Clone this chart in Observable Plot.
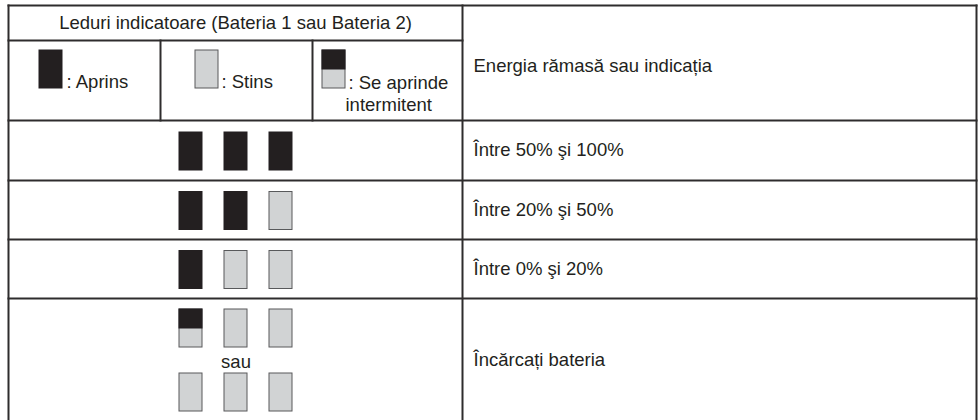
<!DOCTYPE html>
<html>
<head>
<meta charset="utf-8">
<script src="https://cdn.jsdelivr.net/npm/d3@7"></script>
<script src="https://cdn.jsdelivr.net/npm/@observablehq/plot@0.6"></script>
<style>
  html, body { margin: 0; padding: 0; background: #fff; }
  #chart { width: 980px; height: 420px; overflow: hidden; }
</style>
</head>
<body>
<div id="chart"></div>
<script>
// ---------- data ----------
const headerTitle = "Leduri indicatoare (Bateria 1 sau Bateria 2)";
const legendStates = ["on", "off", "blink"];
const legendLabels = [[": Aprins"], [": Stins"], [": Se aprinde", "intermitent"]];
const columnHeader = "Energia rămasă sau indicația";
const levelLabels = ["Între 50% şi 100%", "Între 20% şi 50%", "Între 0% şi 20%", "Încărcați bateria"];
const ledPatterns = [
  ["on", "on", "on"],
  ["on", "on", "off"],
  ["on", "off", "off"],
  ["blink", "off", "off"]
];
const altPattern = ["off", "off", "off"];
const orWord = "sau";

// ---------- layout (code, not data) ----------
const W = 980, H = 420;
const L = 8, R = 976, T = 5, B = 432, MID = 462;
const rowLines = [120, 180, 239, 298];
const legendCols = [8, 160, 312, 462];
const ledW = 23, ledH = 38;
const ledX = [179, 224, 269];
const legendLedX = [39, 195, 322];
const legendTextX = [[66], [221], [348, 345]];
const legendTextY = [81.5, 104.5];
const FS = 18.5;
const ink = "#231f20", grayFill = "#d1d3d4", grayStroke = "#58595b", lineCol = "#2e2c2d";

// grid segments
const segs = [
  {x1: L, y1: T, x2: R, y2: T},
  {x1: L, y1: T, x2: L, y2: B},
  {x1: R, y1: T, x2: R, y2: B},
  {x1: MID, y1: T, x2: MID, y2: B},
  {x1: L, y1: 40, x2: MID, y2: 40},
  {x1: legendCols[1], y1: 40, x2: legendCols[1], y2: rowLines[0]},
  {x1: legendCols[2], y1: 40, x2: legendCols[2], y2: rowLines[0]},
  ...rowLines.map(y => ({x1: L, y1: y, x2: R, y2: y}))
];

// LED rectangles
const leds = [];
function addLed(x, yTop, state) {
  leds.push({x1: x, x2: x + ledW, y1: yTop, y2: yTop + ledH, state});
}
legendStates.forEach((s, i) => addLed(legendLedX[i], 50, s));
const rowBands = [[120, 180], [180, 239], [239, 298]];
ledPatterns.forEach((pat, r) => {
  if (r < 3) {
    const c = (rowBands[r][0] + rowBands[r][1]) / 2;
    pat.forEach((s, k) => addLed(ledX[k], c - ledH / 2 + 1, s));
  } else {
    pat.forEach((s, k) => addLed(ledX[k], 309, s));
    altPattern.forEach((s, k) => addLed(ledX[k], 373, s));
  }
});
const blinkTops = leds.filter(d => d.state === "blink")
  .map(d => ({x1: d.x1, x2: d.x2, y1: d.y1, y2: d.y1 + 19}));

// texts
const texts = [];
texts.push({x: (L + MID) / 2, y: 22.5, t: headerTitle, a: "middle"});
legendLabels.forEach((lines, i) => lines.forEach((t, j) =>
  texts.push({x: legendTextX[i][j], y: legendTextY[j] + (i === 2 && j === 0 ? 1 : 0), t, a: "start"})));
texts.push({x: 473, y: 66, t: columnHeader, a: "start"});
const levelY = [150, 209.5, 268.5, 360];
levelLabels.forEach((t, i) => texts.push({x: 473, y: levelY[i], t, a: "start"}));
texts.push({x: ledX[1] + ledW / 2, y: 362, t: orWord, a: "middle"});

const chart = Plot.plot({
  width: W,
  height: H,
  margin: 0,
  x: {domain: [0, W], range: [0, W], axis: null},
  y: {domain: [0, H], range: [0, H], axis: null},
  style: {fontFamily: "'Liberation Sans', Arial, Helvetica, sans-serif", fontSize: FS + "px", background: "#fff"},
  marks: [
    Plot.rect(leds, {
      x1: "x1", x2: "x2", y1: "y1", y2: "y2",
      fill: d => d.state === "on" ? ink : grayFill,
      stroke: d => d.state === "on" ? ink : grayStroke,
      strokeWidth: 1,
      inset: 0
    }),
    Plot.rect(blinkTops, {x1: "x1", x2: "x2", y1: "y1", y2: "y2", fill: ink, stroke: ink, strokeWidth: 1, inset: 0}),
    Plot.link(segs, {x1: "x1", y1: "y1", x2: "x2", y2: "y2", stroke: lineCol, strokeWidth: 2, strokeLinecap: "square"}),
    Plot.text(texts.filter(d => d.a === "start"), {x: "x", y: "y", text: "t", textAnchor: "start", lineAnchor: "middle", fill: ink, fontSize: FS}),
    Plot.text(texts.filter(d => d.a === "middle"), {x: "x", y: "y", text: "t", textAnchor: "middle", lineAnchor: "middle", fill: ink, fontSize: FS})
  ]
});
document.getElementById("chart").appendChild(chart);
</script>
</body>
</html>
